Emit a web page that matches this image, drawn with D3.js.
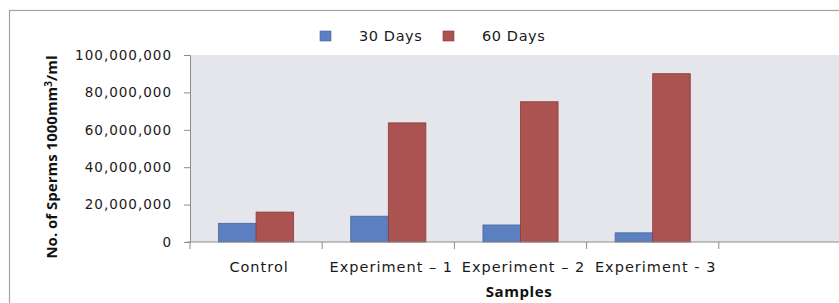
<!DOCTYPE html>
<html>
<head>
<meta charset="utf-8">
<script src="https://cdn.jsdelivr.net/npm/d3@7"></script>
<style>
  body { margin: 0; background: #ffffff; }
  svg { display: block; }
  .tick-label { font-family: "DejaVu Sans", sans-serif; font-size: 13.5px; fill: #1a1a1a; letter-spacing: 1px; }
  .cat-label { font-family: "DejaVu Sans", sans-serif; font-size: 14.5px; fill: #1a1a1a; letter-spacing: 1px; }
  .axis-title { font-family: "Open Sans", sans-serif; font-size: 15px; font-weight: bold; fill: #111111; }
  .legend-label { font-family: "DejaVu Sans", sans-serif; font-size: 14.5px; fill: #1a1a1a; letter-spacing: 0.6px; }
</style>
</head>
<body>
<svg id="chart" width="839" height="303"></svg>
<script>
CHART_WIDTH = 839
CHART_HEIGHT = 303

/* Chart data */
var categories = ["Control", "Experiment \u2013 1", "Experiment \u2013 2", "Experiment - 3", ""];
var seriesNames = ["30 Days", "60 Days"];
var days30 = [10000000, 13800000, 9100000, 4900000, null];
var days60 = [16000000, 63700000, 75000000, 90000000, null];
var yTicks = [0, 20000000, 40000000, 60000000, 80000000, 100000000];
var seriesColors = ["#5b7fc1", "#aa5351"];
var seriesStrokes = ["#44659f", "#8a3b39"];

var svg = d3.select("#chart");

var plot = {left: 190, right: 851, top: 55, bottom: 242};

var x = d3.scaleBand()
    .domain(categories)
    .range([plot.left, plot.right])
    .paddingInner(0)
    .paddingOuter(0);

var xSeries = d3.scaleBand()
    .domain(seriesNames)
    .range([0, x.bandwidth()])
    .paddingOuter(0.76)
    .paddingInner(0);

var y = d3.scaleLinear()
    .domain([0, 100000000])
    .range([plot.bottom, plot.top]);

// chart frame (cropped at right/bottom)
svg.append("rect")
    .attr("x", 9.5)
    .attr("y", 10.5)
    .attr("width", 900)
    .attr("height", 400)
    .attr("fill", "#ffffff")
    .attr("stroke", "#a3a3a3")
    .attr("stroke-width", 1.2);

// plot background
svg.append("rect")
    .attr("x", plot.left)
    .attr("y", plot.top)
    .attr("width", plot.right - plot.left)
    .attr("height", plot.bottom - plot.top)
    .attr("fill", "#e5e6eb");

function dg_chart_drawBars() {
    var rows = categories.map(function(c, i) {
        return {category: c, values: [days30[i], days60[i]]};
    });
    var groups = svg.append("g")
        .selectAll("g")
        .data(rows)
        .join("g")
        .attr("transform", function(d) { return "translate(" + x(d.category) + ",0)"; });
    groups.selectAll("rect")
        .data(function(d) {
            return d.values.map(function(v, i) { return {series: seriesNames[i], value: v, index: i}; })
                .filter(function(s) { return s.value != null; });
        })
        .join("rect")
        .attr("x", function(d) { return xSeries(d.series); })
        .attr("y", function(d) { return y(d.value); })
        .attr("width", xSeries.bandwidth())
        .attr("height", function(d) { return y(0) - y(d.value); })
        .attr("fill", function(d) { return seriesColors[d.index]; })
        .attr("stroke", function(d) { return seriesStrokes[d.index]; })
        .attr("stroke-width", 0.8);
}

function dg_chart_drawAxes() {
    // Y axis
    var yAxis = d3.axisLeft(y)
        .tickValues(yTicks)
        .tickSize(6)
        .tickPadding(12)
        .tickFormat(d3.format(",.0f"));
    var yG = svg.append("g")
        .attr("transform", "translate(" + plot.left + ",0)")
        .call(yAxis);
    yG.select(".domain").attr("stroke", "#8c8c8c");
    yG.selectAll(".tick line").attr("stroke", "#8c8c8c");
    yG.selectAll(".tick text")
        .attr("class", "tick-label")
        .attr("font-family", null)
        .attr("font-size", null);

    // X axis, ticks between categories
    var xG = svg.append("g")
        .attr("transform", "translate(0," + plot.bottom + ")");
    xG.append("line")
        .attr("x1", plot.left - 3)
        .attr("x2", CHART_WIDTH)
        .attr("stroke", "#8c8c8c");
    xG.selectAll(".xtick")
        .data(categories)
        .join("line")
        .attr("class", "xtick")
        .attr("x1", function(d) { return x(d); })
        .attr("x2", function(d) { return x(d); })
        .attr("y1", 0)
        .attr("y2", 7)
        .attr("stroke", "#8c8c8c");
    xG.selectAll(".cat-label")
        .data(categories)
        .join("text")
        .attr("class", "cat-label")
        .attr("x", function(d) { return x(d) + x.bandwidth() / 2 + 3; })
        .attr("y", 30)
        .attr("text-anchor", "middle")
        .text(function(d) { return d; });

    // axis titles
    svg.append("text")
        .attr("class", "axis-title")
        .attr("x", 519)
        .attr("y", 297)
        .attr("text-anchor", "middle")
        .attr("letter-spacing", "0.6px")
        .text("Samples");
    var yTitle = svg.append("text")
        .attr("class", "axis-title")
        .attr("transform", "translate(57,157) rotate(-90)")
        .attr("text-anchor", "middle");
    yTitle.append("tspan").text("No. of Sperms 1000mm");
    yTitle.append("tspan").attr("dy", -5).attr("font-size", "10px").text("3");
    yTitle.append("tspan").attr("dy", 5).text("/ml");
}

function dg_chart_drawLegend() {
    var legendX = [320, 443];
    var legend = svg.append("g")
        .selectAll("g")
        .data(seriesNames)
        .join("g")
        .attr("transform", function(d, i) { return "translate(" + legendX[i] + ",31)"; });
    legend.append("rect")
        .attr("width", 11)
        .attr("height", 10)
        .attr("fill", function(d, i) { return seriesColors[i]; })
        .attr("stroke", function(d, i) { return seriesStrokes[i]; })
        .attr("stroke-width", 0.6);
    legend.append("text")
        .attr("class", "legend-label")
        .attr("x", 39)
        .attr("y", 10)
        .text(function(d) { return d; });
}

dg_chart_drawBars();
dg_chart_drawAxes();
dg_chart_drawLegend();
</script>
</body>
</html>
